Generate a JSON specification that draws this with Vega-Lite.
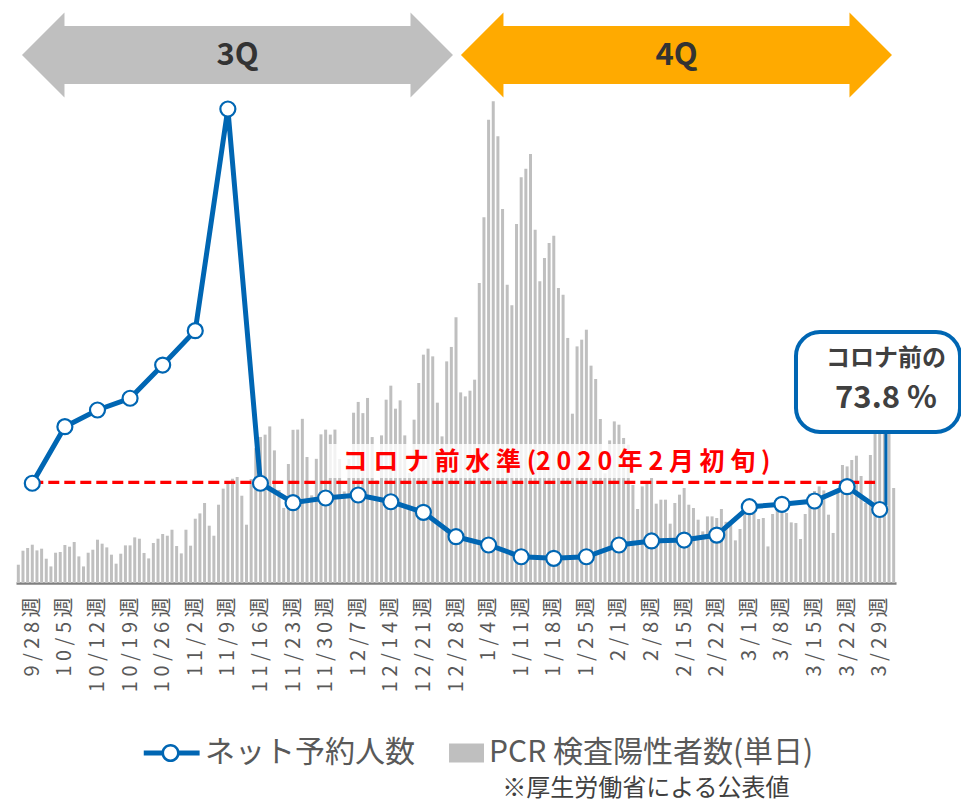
{
  "$schema": "https://vega.github.io/schema/vega-lite/v6.json",
  "width": 880,
  "height": 575,
  "autosize": {"type": "none"},
  "padding": {"left": 16, "top": 8, "right": 65, "bottom": 222},
  "background": "white",
  "config": {"view": {"stroke": null}, "font": "Noto Sans CJK JP", "axis": {"labelOverlap": false}, "axisX": {"labelOverlap": false}},
  "datasets": {
    "daily": [
      {"date":"2020-09-28","cases":299},{"date":"2020-09-29","cases":528},{"date":"2020-09-30","cases":572},
      {"date":"2020-10-01","cases":626},{"date":"2020-10-02","cases":533},{"date":"2020-10-03","cases":561},{"date":"2020-10-04","cases":397},{"date":"2020-10-05","cases":271},{"date":"2020-10-06","cases":495},{"date":"2020-10-07","cases":507},{"date":"2020-10-08","cases":621},{"date":"2020-10-09","cases":594},{"date":"2020-10-10","cases":670},{"date":"2020-10-11","cases":435},{"date":"2020-10-12","cases":271},{"date":"2020-10-13","cases":495},{"date":"2020-10-14","cases":544},{"date":"2020-10-15","cases":708},{"date":"2020-10-16","cases":643},{"date":"2020-10-17","cases":582},{"date":"2020-10-18","cases":463},{"date":"2020-10-19","cases":316},{"date":"2020-10-20","cases":479},{"date":"2020-10-21","cases":615},{"date":"2020-10-22","cases":615},{"date":"2020-10-23","cases":746},{"date":"2020-10-24","cases":724},{"date":"2020-10-25","cases":491},{"date":"2020-10-26","cases":402},{"date":"2020-10-27","cases":654},{"date":"2020-10-28","cases":724},{"date":"2020-10-29","cases":801},{"date":"2020-10-30","cases":773},{"date":"2020-10-31","cases":871},
      {"date":"2020-11-01","cases":605},{"date":"2020-11-02","cases":484},{"date":"2020-11-03","cases":871},{"date":"2020-11-04","cases":610},{"date":"2020-11-05","cases":1051},{"date":"2020-11-06","cases":1138},{"date":"2020-11-07","cases":1308},{"date":"2020-11-08","cases":937},{"date":"2020-11-09","cases":773},{"date":"2020-11-10","cases":1280},{"date":"2020-11-11","cases":1542},{"date":"2020-11-12","cases":1635},{"date":"2020-11-13","cases":1705},{"date":"2020-11-14","cases":1733},{"date":"2020-11-15","cases":1427},{"date":"2020-11-16","cases":953},{"date":"2020-11-17","cases":1699},{"date":"2020-11-18","cases":2201},{"date":"2020-11-19","cases":2388},{"date":"2020-11-20","cases":2425},{"date":"2020-11-21","cases":2560},{"date":"2020-11-22","cases":2168},{"date":"2020-11-23","cases":1520},{"date":"2020-11-24","cases":1228},{"date":"2020-11-25","cases":1945},{"date":"2020-11-26","cases":2504},{"date":"2020-11-27","cases":2508},{"date":"2020-11-28","cases":2684},{"date":"2020-11-29","cases":2060},{"date":"2020-11-30","cases":1433},
      {"date":"2020-12-01","cases":2030},{"date":"2020-12-02","cases":2430},{"date":"2020-12-03","cases":2507},{"date":"2020-12-04","cases":2426},{"date":"2020-12-05","cases":2508},{"date":"2020-12-06","cases":2027},{"date":"2020-12-07","cases":1497},{"date":"2020-12-08","cases":2028},{"date":"2020-12-09","cases":2784},{"date":"2020-12-10","cases":2960},{"date":"2020-12-11","cases":2777},{"date":"2020-12-12","cases":3025},{"date":"2020-12-13","cases":2386},{"date":"2020-12-14","cases":1676},{"date":"2020-12-15","cases":2413},{"date":"2020-12-16","cases":2997},{"date":"2020-12-17","cases":3226},{"date":"2020-12-18","cases":2850},{"date":"2020-12-19","cases":2986},{"date":"2020-12-20","cases":2413},{"date":"2020-12-21","cases":1800},{"date":"2020-12-22","cases":2670},{"date":"2020-12-23","cases":3270},{"date":"2020-12-24","cases":3733},{"date":"2020-12-25","cases":3831},{"date":"2020-12-26","cases":3705},{"date":"2020-12-27","cases":2948},{"date":"2020-12-28","cases":2397},{"date":"2020-12-29","cases":3623},{"date":"2020-12-30","cases":3859},{"date":"2020-12-31","cases":4343},
      {"date":"2021-01-01","cases":3116},{"date":"2021-01-02","cases":3051},{"date":"2021-01-03","cases":3144},{"date":"2021-01-04","cases":3324},{"date":"2021-01-05","cases":4905},{"date":"2021-01-06","cases":5978},{"date":"2021-01-07","cases":7575},{"date":"2021-01-08","cases":7874},{"date":"2021-01-09","cases":7302},{"date":"2021-01-10","cases":6115},{"date":"2021-01-11","cases":4877},{"date":"2021-01-12","cases":4539},{"date":"2021-01-13","cases":5870},{"date":"2021-01-14","cases":6632},{"date":"2021-01-15","cases":6774},{"date":"2021-01-16","cases":7014},{"date":"2021-01-17","cases":5776},{"date":"2021-01-18","cases":4931},{"date":"2021-01-19","cases":5314},{"date":"2021-01-20","cases":5559},{"date":"2021-01-21","cases":5678},{"date":"2021-01-22","cases":4823},{"date":"2021-01-23","cases":4714},{"date":"2021-01-24","cases":4006},{"date":"2021-01-25","cases":2768},{"date":"2021-01-26","cases":3868},{"date":"2021-01-27","cases":3978},{"date":"2021-01-28","cases":4141},{"date":"2021-01-29","cases":3553},{"date":"2021-01-30","cases":3335},{"date":"2021-01-31","cases":2681},
      {"date":"2021-02-01","cases":1792},{"date":"2021-02-02","cases":2331},{"date":"2021-02-03","cases":2642},{"date":"2021-02-04","cases":2588},{"date":"2021-02-05","cases":2371},{"date":"2021-02-06","cases":2261},{"date":"2021-02-07","cases":1602},{"date":"2021-02-08","cases":1210},{"date":"2021-02-09","cases":1579},{"date":"2021-02-10","cases":1635},{"date":"2021-02-11","cases":1717},{"date":"2021-02-12","cases":1297},{"date":"2021-02-13","cases":1362},{"date":"2021-02-14","cases":1362},{"date":"2021-02-15","cases":970},{"date":"2021-02-16","cases":1308},{"date":"2021-02-17","cases":1444},{"date":"2021-02-18","cases":1553},{"date":"2021-02-19","cases":1280},{"date":"2021-02-20","cases":1226},{"date":"2021-02-21","cases":1035},{"date":"2021-02-22","cases":844},{"date":"2021-02-23","cases":1089},{"date":"2021-02-24","cases":1089},{"date":"2021-02-25","cases":1063},{"date":"2021-02-26","cases":1210},{"date":"2021-02-27","cases":1000},{"date":"2021-02-28","cases":990},
      {"date":"2021-03-01","cases":697},{"date":"2021-03-02","cases":883},{"date":"2021-03-03","cases":1194},{"date":"2021-03-04","cases":1334},{"date":"2021-03-05","cases":1145},{"date":"2021-03-06","cases":1046},{"date":"2021-03-07","cases":1063},{"date":"2021-03-08","cases":598},{"date":"2021-03-09","cases":1128},{"date":"2021-03-10","cases":1275},{"date":"2021-03-11","cases":1226},{"date":"2021-03-12","cases":1145},{"date":"2021-03-13","cases":991},{"date":"2021-03-14","cases":980},{"date":"2021-03-15","cases":719},{"date":"2021-03-16","cases":1128},{"date":"2021-03-17","cases":1460},{"date":"2021-03-18","cases":1504},{"date":"2021-03-19","cases":1579},{"date":"2021-03-20","cases":1514},{"date":"2021-03-21","cases":1117},{"date":"2021-03-22","cases":818},{"date":"2021-03-23","cases":1508},{"date":"2021-03-24","cases":1929},{"date":"2021-03-25","cases":1906},{"date":"2021-03-26","cases":2011},{"date":"2021-03-27","cases":2081},{"date":"2021-03-28","cases":1749},{"date":"2021-03-29","cases":1308},{"date":"2021-03-30","cases":2093},{"date":"2021-03-31","cases":2842},
      {"date":"2021-04-01","cases":2591},{"date":"2021-04-02","cases":2772},{"date":"2021-04-03","cases":2767},{"date":"2021-04-04","cases":1553}
    ],
    "weekly": [
      {"date":"2020-10-01","week":"9/28週","v":99.1},{"date":"2020-10-08","week":"10/5週","v":153.6},{"date":"2020-10-15","week":"10/12週","v":169.7},{"date":"2020-10-22","week":"10/19週","v":181},{"date":"2020-10-29","week":"10/26週","v":213},{"date":"2020-11-05","week":"11/2週","v":246.1},{"date":"2020-11-12","week":"11/9週","v":459.7},{"date":"2020-11-19","week":"11/16週","v":99.1},{"date":"2020-11-26","week":"11/23週","v":80.4},{"date":"2020-12-03","week":"11/30週","v":84.9},{"date":"2020-12-10","week":"12/7週","v":87.8},{"date":"2020-12-17","week":"12/14週","v":81.3},{"date":"2020-12-24","week":"12/21週","v":71.1},{"date":"2020-12-31","week":"12/28週","v":47.6},{"date":"2021-01-07","week":"1/4週","v":39.6},{"date":"2021-01-14","week":"1/11週","v":28.3},{"date":"2021-01-21","week":"1/18週","v":26.8},{"date":"2021-01-28","week":"1/25週","v":28.3},{"date":"2021-02-04","week":"2/1週","v":39.6},{"date":"2021-02-11","week":"2/8週","v":43.5},{"date":"2021-02-18","week":"2/15週","v":44.4},{"date":"2021-02-25","week":"2/22週","v":49.2},{"date":"2021-03-04","week":"3/1週","v":76.5},{"date":"2021-03-11","week":"3/8週","v":78.8},{"date":"2021-03-18","week":"3/15週","v":82},{"date":"2021-03-25","week":"3/22週","v":95.8},{"date":"2021-04-01","week":"3/29週","v":73.8}
    ],
    "level": [{"date":"2020-10-01","date2":"2021-03-31","v":100}],
    "levelLabel": [{"date":"2020-12-03T12:00:00Z","date2":"2021-03-11T17:00:00Z","mid":"2021-01-21T14:00:00Z","lo":104.2,"hi":136.9,"v":119.6,"text":"コロナ前水準(2020年2月初旬)"}],
    "callout": [{"date":"2021-03-14T00:30:00Z","date2":"2021-04-18T06:00:00Z","stem":"2021-04-02T08:00:00Z","lo":148.5,"hi":244.8,"tip":78}],
    "calloutText": [{"date":"2021-04-02T08:20:00Z","v":218.8,"t":"コロナ前の"},{"date":"2021-04-02T08:20:00Z","v":180.3,"t":"73.8 %"}],
    "quarters": [{"date":"2020-11-14T01:40:00Z","v":511.7,"label":"3Q"},{"date":"2021-02-16T08:25:00Z","v":511.7,"label":"4Q"}],
    "note": [{"date":"2021-02-09T19:10:00Z","v":-195.5,"text":"※厚生労働省による公表値"}]
  },
  "layer": [
    {
      "data": {"name": "daily"},
      "mark": {"type": "bar", "width": 3},
      "encoding": {
        "x": {"field": "date", "type": "temporal", "title": null,
          "scale": {"type": "utc", "padding": 0, "domain": [{"year":2020,"month":9,"date":27,"hours":12,"utc":true},{"year":2021,"month":4,"date":4,"hours":12,"utc":true}]},
          "axis": {
            "values": [
              {"year":2020,"month":10,"date":1,"utc":true},{"year":2020,"month":10,"date":8,"utc":true},{"year":2020,"month":10,"date":15,"utc":true},{"year":2020,"month":10,"date":22,"utc":true},{"year":2020,"month":10,"date":29,"utc":true},
              {"year":2020,"month":11,"date":5,"utc":true},{"year":2020,"month":11,"date":12,"utc":true},{"year":2020,"month":11,"date":19,"utc":true},{"year":2020,"month":11,"date":26,"utc":true},
              {"year":2020,"month":12,"date":3,"utc":true},{"year":2020,"month":12,"date":10,"utc":true},{"year":2020,"month":12,"date":17,"utc":true},{"year":2020,"month":12,"date":24,"utc":true},{"year":2020,"month":12,"date":31,"utc":true},
              {"year":2021,"month":1,"date":7,"utc":true},{"year":2021,"month":1,"date":14,"utc":true},{"year":2021,"month":1,"date":21,"utc":true},{"year":2021,"month":1,"date":28,"utc":true},
              {"year":2021,"month":2,"date":4,"utc":true},{"year":2021,"month":2,"date":11,"utc":true},{"year":2021,"month":2,"date":18,"utc":true},{"year":2021,"month":2,"date":25,"utc":true},
              {"year":2021,"month":3,"date":4,"utc":true},{"year":2021,"month":3,"date":11,"utc":true},{"year":2021,"month":3,"date":18,"utc":true},{"year":2021,"month":3,"date":25,"utc":true},{"year":2021,"month":4,"date":1,"utc":true}
            ],
            "tickCount": 40,
            "labelExpr": "join(split(utcFormat(datum.value - 259200000, '%-m/%-d') + '週', ''), ' ')",
            "labelAngle": -90, "ticks": false, "grid": false,
            "domainColor": "#808080", "domainWidth": 2.5,
            "labelFont": "Noto Sans CJK JP", "labelFontSize": 20, "labelColor": "#595959",
            "labelPadding": 14, "labelOverlap": false, "labelFlush": false, "labelSeparation": 0, "title": null
          }
        },
        "y": {"field": "cases", "type": "quantitative", "scale": {"domain": [0, 9400], "nice": false}, "axis": null},
        "color": {"datum": "PCR 検査陽性者数(単日)"}
      }
    },
    {
      "data": {"name": "level"},
      "mark": {"type": "rule", "color": "#FF0000", "strokeWidth": 3.3, "strokeDash": [11, 5]},
      "encoding": {
        "x": {"field": "date", "type": "temporal", "title": null},
        "x2": {"field": "date2"},
        "y": {"field": "v", "type": "quantitative", "scale": {"domain": [3, 557], "nice": false, "zero": false}, "axis": null}
      }
    },
    {
      "data": {"name": "levelLabel"},
      "mark": {"type": "rect", "fill": "white", "fillOpacity": 0.8},
      "encoding": {
        "x": {"field": "date", "type": "temporal", "title": null},
        "x2": {"field": "date2"},
        "y": {"field": "lo", "type": "quantitative", "scale": {"domain": [3, 557], "nice": false, "zero": false}, "axis": null},
        "y2": {"field": "hi"}
      }
    },
    {
      "data": {"name": "levelLabel"},
      "mark": {"type": "text", "text": "コ ロ ナ 前 水 準 (2 0 2 0 年 2 月 初 旬 )", "font": "Noto Sans CJK JP", "fontSize": 25, "fontWeight": "bold", "color": "#FF0000", "baseline": "middle", "align": "center"},
      "encoding": {
        "x": {"field": "mid", "type": "temporal", "title": null},
        "y": {"field": "v", "type": "quantitative", "scale": {"domain": [3, 557], "nice": false, "zero": false}, "axis": null}
      }
    },
    {
      "data": {"name": "weekly"},
      "mark": {"type": "line", "strokeWidth": 5},
      "encoding": {
        "x": {"field": "date", "type": "temporal", "title": null},
        "y": {"field": "v", "type": "quantitative", "scale": {"domain": [3, 557], "nice": false, "zero": false}, "axis": null},
        "color": {"datum": "ネット予約人数",
          "scale": {"domain": ["ネット予約人数", "PCR 検査陽性者数(単日)"], "range": ["#0066B3", "#BFBFBF"]},
          "legend": {
            "orient": "none", "legendX": 146, "legendY": 726, "direction": "horizontal", "title": null,
            "labelFont": "Noto Sans CJK JP", "labelFontSize": 30, "labelColor": "#595959", "labelLimit": 600,
            "labelOffset": 5, "columnPadding": 31, "symbolSize": 1444, "symbolStrokeWidth": 0,
            "encode": {"symbols": {"update": {
              "shape": {"signal": "datum.value === 'ネット予約人数' ? 'M-1.96,-0.13H-0.95V0.13H-1.96Z M-0.15,-0.13H0.98V0.13H-0.15Z M-0.07,0A0.48,0.48,0,1,1,-1.03,0A0.48,0.48,0,1,1,-0.07,0Z M-0.21,0A0.34,0.34,0,1,0,-0.89,0A0.34,0.34,0,1,0,-0.21,0Z' : 'M-0.84,-0.5H1V0.5H-0.84Z'"},
              "fill": {"signal": "datum.value === 'ネット予約人数' ? '#0066B3' : '#BFBFBF'"},
              "stroke": {"value": "transparent"},
              "strokeWidth": {"value": 0},
              "opacity": {"value": 1},
              "size": {"value": 1444}
            }}}
          }
        }
      }
    },
    {
      "data": {"name": "callout"},
      "mark": {"type": "rule", "color": "#0066B3", "strokeWidth": 3},
      "encoding": {
        "x": {"field": "stem", "type": "temporal", "title": null},
        "y": {"field": "lo", "type": "quantitative", "scale": {"domain": [3, 557], "nice": false, "zero": false}, "axis": null},
        "y2": {"field": "tip"}
      }
    },
    {
      "data": {"name": "weekly"},
      "mark": {"type": "point", "filled": true, "fill": "white", "stroke": "#0066B3", "strokeWidth": 2.2, "size": 225, "opacity": 1},
      "encoding": {
        "x": {"field": "date", "type": "temporal", "title": null},
        "y": {"field": "v", "type": "quantitative", "scale": {"domain": [3, 557], "nice": false, "zero": false}, "axis": null}
      }
    },
    {
      "data": {"name": "callout"},
      "mark": {"type": "rect", "fill": "white", "stroke": "#0066B3", "strokeWidth": 4, "cornerRadius": 24},
      "encoding": {
        "x": {"field": "date", "type": "temporal", "title": null},
        "x2": {"field": "date2"},
        "y": {"field": "lo", "type": "quantitative", "scale": {"domain": [3, 557], "nice": false, "zero": false}, "axis": null},
        "y2": {"field": "hi"}
      }
    },
    {
      "data": {"name": "calloutText"},
      "mark": {"type": "text", "font": "Noto Sans CJK JP", "fontWeight": "bold", "color": "#404040", "baseline": "middle", "align": "center"},
      "encoding": {
        "x": {"field": "date", "type": "temporal", "title": null},
        "y": {"field": "v", "type": "quantitative", "scale": {"domain": [3, 557], "nice": false, "zero": false}, "axis": null},
        "text": {"field": "t"},
        "size": {"condition": {"test": "datum.t === '73.8 %'", "value": 31}, "value": 24}
      }
    },
    {
      "data": {"name": "quarters"},
      "mark": {"type": "point", "filled": true, "opacity": 1, "strokeWidth": 0, "size": 185761,
        "shape": "M-1,0L-0.8028,-0.1972L-0.8028,-0.1346L0.8028,-0.1346L0.8028,-0.1972L1,0L0.8028,0.1972L0.8028,0.1346L-0.8028,0.1346L-0.8028,0.1972Z"},
      "encoding": {
        "x": {"field": "date", "type": "temporal", "title": null},
        "y": {"field": "v", "type": "quantitative", "scale": {"domain": [3, 557], "nice": false, "zero": false}, "axis": null},
        "fill": {"condition": {"test": "datum.label === '3Q'", "value": "#BFBFBF"}, "value": "#FFAA00"}
      }
    },
    {
      "data": {"name": "quarters"},
      "mark": {"type": "text", "font": "Noto Sans CJK JP", "fontSize": 31, "fontWeight": "bold", "color": "#333333", "baseline": "middle", "align": "center", "dy": 1},
      "encoding": {
        "x": {"field": "date", "type": "temporal", "title": null},
        "y": {"field": "v", "type": "quantitative", "scale": {"domain": [3, 557], "nice": false, "zero": false}, "axis": null},
        "text": {"field": "label"}
      }
    },
    {
      "data": {"name": "note"},
      "mark": {"type": "text", "font": "Noto Sans CJK JP", "fontSize": 24, "color": "#404040", "baseline": "middle", "align": "center"},
      "encoding": {
        "x": {"field": "date", "type": "temporal", "title": null},
        "y": {"field": "v", "type": "quantitative", "scale": {"domain": [3, 557], "nice": false, "zero": false}, "axis": null},
        "text": {"field": "text"}
      }
    }
  ],
  "resolve": {"scale": {"y": "independent"}}
}
